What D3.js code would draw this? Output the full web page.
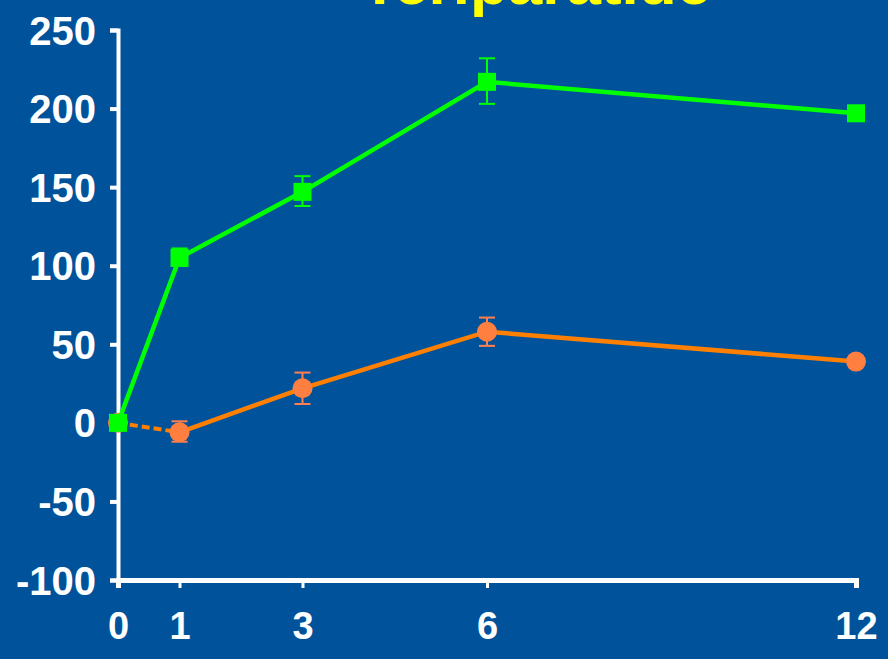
<!DOCTYPE html>
<html><head><meta charset="utf-8">
<script src="https://cdn.jsdelivr.net/npm/d3@7"></script>
<style>
html,body{margin:0;padding:0;background:#00529B;}
svg{display:block;}
text{font-family:"Liberation Sans",Arial,sans-serif;font-weight:bold;}
</style></head>
<body>
<script>
const months = [0, 1, 3, 6, 12];
const xTickLabels = ["0", "1", "3", "6", "12"];
const yTicks = [-100, -50, 0, 50, 100, 150, 200, 250];
const yTickLabels = ["-100", "-50", "0", "50", "100", "150", "200", "250"];
const title = "Teriparatide";

const greenValues = [0, 105, 147, 217, 197];
const greenErrLow = [null, 100, 138, 203, null];
const greenErrHigh = [null, 111, 157, 232, null];

const orangeValues = [0, -6, 22, 58, 39];
const orangeErrLow = [null, -12, 12, 49, null];
const orangeErrHigh = [null, 1, 32, 67, null];

const W = 888, H = 659;
const svg = d3.select("body").append("svg").attr("width", W).attr("height", H);
svg.append("rect").attr("width", W).attr("height", H).attr("fill", "#00529B");

const x = d3.scaleLinear().domain([0, 12]).range([118, 856]);
const y = d3.scaleLinear().domain([-100, 250]).range([580, 30]);

// title (partially cut off at top, as in the reference)
svg.append("text").attr("x", 536).attr("y", 4).attr("text-anchor", "middle")
  .attr("fill", "#FFFF00").style("font-size", "62px").text(title);

// y axis
const yAxis = svg.append("g").attr("transform", "translate(118,0)")
  .call(d3.axisLeft(y).tickValues(yTicks).tickSize(8).tickPadding(14)
    .tickFormat((d, i) => yTickLabels[i]));
yAxis.select(".domain").attr("stroke", "#fff").attr("stroke-width", 4);
yAxis.selectAll(".tick line").attr("stroke", "#fff").attr("stroke-width", 4);
yAxis.selectAll(".tick text").attr("fill", "#fff").style("font-size", "40px")
  .style("font-family", "'Liberation Sans', Arial, sans-serif").style("font-weight", "bold")
  .attr("dy", "0.35em");

// x axis
const xAxis = svg.append("g").attr("transform", "translate(0,580)")
  .call(d3.axisBottom(x).tickValues(months).tickSize(8).tickPadding(24).tickFormat((d, i) => xTickLabels[i]));
xAxis.select(".domain").attr("stroke", "#fff").attr("stroke-width", 5);
xAxis.selectAll(".tick line").attr("stroke", "#fff").attr("stroke-width", 3);
xAxis.selectAll(".tick text").attr("fill", "#fff").style("font-size", "38px")
  .style("font-family", "'Liberation Sans', Arial, sans-serif").style("font-weight", "bold");

function drawSeries(vals, lo, hi, lineColor, markColor, errColor, shape, dashFirst) {
  const pts = months.map((m, i) => ({ m, v: vals[i], lo: lo[i], hi: hi[i] }));
  const g = svg.append("g");
  pts.filter(p => p.lo !== null).forEach(p => {
    const cx = x(p.m);
    g.append("line").attr("x1", cx).attr("x2", cx).attr("y1", y(p.lo)).attr("y2", y(p.hi))
      .attr("stroke", errColor).attr("stroke-width", 2);
    [p.lo, p.hi].forEach(v => g.append("line").attr("x1", cx - 8).attr("x2", cx + 8)
      .attr("y1", y(v)).attr("y2", y(v)).attr("stroke", errColor).attr("stroke-width", 2));
  });
  const line = d3.line().x(p => x(p.m)).y(p => y(p.v));
  if (dashFirst) {
    g.append("path").attr("d", line(pts.slice(0, 2))).attr("fill", "none")
      .attr("stroke", lineColor).attr("stroke-width", 4).attr("stroke-dasharray", "8,4");
    g.append("path").attr("d", line(pts.slice(1))).attr("fill", "none")
      .attr("stroke", lineColor).attr("stroke-width", 4.5);
  } else {
    g.append("path").attr("d", line(pts)).attr("fill", "none")
      .attr("stroke", lineColor).attr("stroke-width", 4.5);
  }
  pts.forEach(p => {
    if (shape === "square") {
      g.append("rect").attr("x", x(p.m) - 9).attr("y", y(p.v) - 9).attr("width", 18).attr("height", 18)
        .attr("fill", markColor);
    } else {
      g.append("circle").attr("cx", x(p.m)).attr("cy", y(p.v)).attr("r", 10).attr("fill", markColor);
    }
  });
}

drawSeries(orangeValues, orangeErrLow, orangeErrHigh, "#FF8000", "#FF7F41", "#FF7F50", "circle", true);
drawSeries(greenValues, greenErrLow, greenErrHigh, "#00FF00", "#00FF00", "#00FF00", "square", false);
</script>
</body></html>
